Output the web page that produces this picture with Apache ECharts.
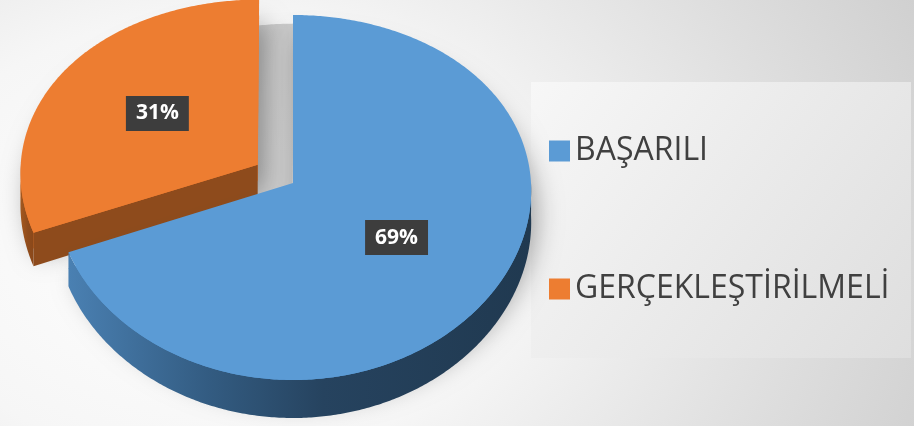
<!DOCTYPE html>
<html>
<head>
<meta charset="utf-8">
<script src="https://cdn.jsdelivr.net/npm/echarts@6/dist/echarts.min.js"></script>
<style>
  html, body { margin: 0; padding: 0; }
  #chart {
    width: 914px;
    height: 426px;
    background: radial-gradient(ellipse 880px 640px at 210px 240px, #ffffff 0%, #f6f6f6 35%, #dedede 68%, #c8c8c8 100%);
  }
</style>
</head>
<body>
<div id="chart"></div>
<script>
const categories = ['BAŞARILI', 'GERÇEKLEŞTİRİLMELİ'];
const values = [69, 31];

const topColors = ['#5b9bd5', '#ed7d31'];
const rimColors = [
  ['#4a80b2', '#335c82', '#26435f', '#203950'],
  ['#a3581f', '#9a521d', '#904c1c', '#8a481a']
];
const cutColors = ['#2d5177', '#8e4b1c'];

// pseudo-3D ellipse layout
const CX = 293, CY = 183, RX = 238, RY = 182.5, BULGE = 14.5, PERSP = 0.04;
const EXPLODE_INDEX = 1, EXPLODE = 0.18;
const total = values.reduce((a, b) => a + b, 0);

const project = (u, v) => [CX + RX * u * (1 + PERSP * v), CY + RY * v + BULGE * v * v];
const depth = (v) => 32 + 6 * v;

function renderSlice(idx) {
  return function (params, api) {
    const val = api.value(0);
    let before = 0;
    for (let k = 0; k < idx; k++) before += values[k];
    const a0 = (before / total) * Math.PI * 2;
    const a1 = a0 + (val / total) * Math.PI * 2;
    const mid = (a0 + a1) / 2;
    const exploded = idx === EXPLODE_INDEX;
    const ou = exploded ? EXPLODE * Math.sin(mid) : 0;
    const ov = exploded ? -EXPLODE * Math.cos(mid) : 0;
    const disk = (r, t) => [ou + r * Math.sin(t), ov - r * Math.cos(t)];
    const top = (r, t) => { const d = disk(r, t); return project(d[0], d[1]); };
    const bot = (r, t) => { const d = disk(r, t); const p = project(d[0], d[1]); return [p[0], p[1] + depth(d[1])]; };
    const arc = (from, to, fn) => {
      const pts = [];
      const n = Math.max(2, Math.ceil(Math.abs(to - from) / 0.01));
      for (let s = 0; s <= n; s++) pts.push(fn(1, from + (to - from) * s / n));
      return pts;
    };

    const children = [];
    const topPts = [top(0, 0)].concat(arc(a0, a1, top));

    // cast shadow of the pulled-out slice
    if (exploded) {
      children.push({
        type: 'polygon',
        shape: { points: topPts.map(p => [p[0] + 35, p[1] + 24]) },
        style: { fill: 'rgba(0,0,0,0.17)', shadowBlur: 10, shadowColor: 'rgba(0,0,0,0.17)' }
      });
    }

    // soft drop shadow
    children.push({
      type: 'polygon',
      shape: { points: topPts.map(p => [p[0], p[1] + 16]) },
      style: { fill: topColors[idx], shadowBlur: 24, shadowColor: 'rgba(0,0,0,0.32)', shadowOffsetX: 6, shadowOffsetY: 8 }
    });

    // cut faces
    const cuts = [];
    if (Math.sin(a0) < -0.01) cuts.push(a0);
    if (Math.sin(a1) > 0.01) cuts.push(a1);
    cuts.forEach(t => {
      children.push({
        type: 'polygon',
        shape: { points: [top(0, t), top(1, t), bot(1, t), bot(0, t)] },
        style: { fill: cutColors[idx] }
      });
    });

    // front rim
    const lo = Math.max(a0, Math.PI / 2), hi = Math.min(a1, Math.PI * 1.5);
    if (hi > lo) {
      const pts = arc(lo, hi, top).concat(arc(hi, lo, bot));
      const c = rimColors[idx];
      children.push({
        type: 'polygon',
        shape: { points: pts },
        style: {
          fill: new echarts.graphic.LinearGradient(0, 0, 1, 0, [
            { offset: 0, color: c[0] }, { offset: 0.3, color: c[1] },
            { offset: 0.55, color: c[2] }, { offset: 1, color: c[3] }
          ])
        }
      });
    }

    // top face
    children.push({
      type: 'polygon',
      shape: { points: topPts },
      style: { fill: topColors[idx] }
    });

    // label
    const lp = top(0.52, mid);
    children.push({
      type: 'text',
      x: lp[0], y: lp[1], z2: 10,
      style: {
        text: Math.round(val / total * 100) + '%',
        fill: '#ffffff',
        font: 'bold 21px "Open Sans"',
        align: 'center', verticalAlign: 'middle',
        backgroundColor: '#3d3d3d',
        padding: [7, 10, 7, 10],
        boxShadowBlur: 6, boxShadowColor: 'rgba(0,0,0,0.45)', boxShadowOffsetX: 2, boxShadowOffsetY: 3
      }
    });

    return { type: 'group', children };
  };
}

const chart = echarts.init(document.getElementById('chart'));
chart.setOption({
  animation: false,
  graphic: {
    elements: [{
      type: 'rect', z: -10,
      shape: { x: 531, y: 82, width: 380, height: 276 },
      style: {
        fill: new echarts.graphic.LinearGradient(0, 0, 1, 1, [
          { offset: 0, color: '#f7f7f7' }, { offset: 1, color: '#dedede' }
        ])
      }
    }]
  },
  legend: {
    data: categories,
    orient: 'vertical',
    left: 549,
    top: 135,
    icon: 'rect',
    itemWidth: 21,
    itemHeight: 21,
    itemGap: 106,
    padding: 0,
    selectedMode: false,
    textStyle: { fontFamily: 'Open Sans', fontSize: 32, color: '#404040' }
  },
  series: categories.map((name, i) => ({
    name,
    type: 'custom',
    coordinateSystem: 'none',
    z: i === EXPLODE_INDEX ? 1 : 2,
    itemStyle: { color: topColors[i] },
    data: [values[i]],
    renderItem: renderSlice(i)
  }))
});
</script>
</body>
</html>
